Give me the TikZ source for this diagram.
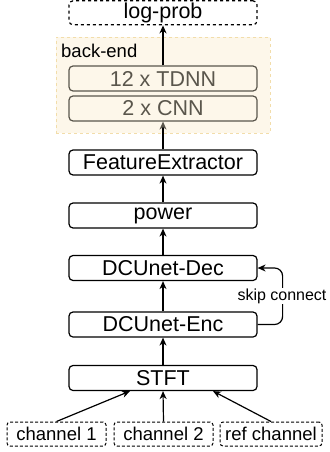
\documentclass[tikz,border=0pt]{standalone}
\usepackage{fontspec}
\setmainfont{Liberation Sans}
\usetikzlibrary{arrows.meta,calc}
\definecolor{becream}{HTML}{FDF7EA}
\definecolor{beborder}{HTML}{F2DDAA}
\definecolor{begrey}{HTML}{5A564C}
\begin{document}
\begin{tikzpicture}[x=1pt,y=-1pt,
  box/.style={draw, rounded corners=4pt, line width=1.2pt, minimum width=188pt, minimum height=25pt, inner sep=0pt, font=\fontsize{21.5}{22}\selectfont},
  bebox/.style={box, draw=begrey, text=begrey, fill=becream},
  inbox/.style={draw, dashed, dash pattern=on 3pt off 2pt, rounded corners=3pt, line width=1pt, minimum height=24pt, inner sep=0pt, font=\fontsize{18.5}{19}\selectfont},
  arr/.style={line width=1.2pt, -{Stealth[length=8pt,width=7pt,inset=2.5pt]}},
  lbl/.style={font=\fontsize{16}{16}\selectfont, fill=white, inner sep=1pt}]
\useasboundingbox (0,0) rectangle (329,452);
% back-end container
\node[draw=beborder, fill=becream, dashed, dash pattern=on 3pt off 3pt, line width=0.9pt, minimum width=214pt, minimum height=96pt, inner sep=0pt] (backend) at (163,85) {};
\node[anchor=base west, font=\fontsize{18.5}{19}\selectfont, inner sep=0pt] (belabel) at (61,57) {back-end};
% main boxes
\node[box, dashed, dash pattern=on 3pt off 3pt, minimum height=24pt] (logprob) at (163,12.8) {log-prob};
\node[bebox] (tdnn) at (163,78.5) {12 x TDNN};
\node[bebox] (cnn) at (163,108.5) {2 x CNN};
\node[box] (fe) at (163,162.5) {FeatureExtractor};
\node[box] (power) at (163,215.5) {power};
\node[box] (dec) at (163,268) {DCUnet-Dec};
\node[box] (enc) at (163,324.5) {DCUnet-Enc};
\node[box] (stft) at (163,378) {STFT};
% inputs
\node[inbox, minimum width=99pt] (ch1) at (56.5,434) {channel 1};
\node[inbox, minimum width=99pt] (ch2) at (163.5,434) {channel 2};
\node[inbox, minimum width=102pt] (ref) at (271,434) {ref channel};
% connectors
\draw[arr] (tdnn.north) -- (logprob.south);
\draw[line width=1.2pt, -{Stealth[length=8pt,width=7pt,inset=2.5pt,color=begrey]}] (fe.north) -- (cnn.south);
\draw[arr] (power.north) -- (fe.south);
\draw[arr] (dec.north) -- (power.south);
\draw[arr] (enc.north) -- (dec.south);
\draw[arr] (stft.north) -- (enc.south);
\draw[arr] (ch2.north) -- (stft.south);
\draw[arr] (ch1.north) -- ($(stft.south)+(-33,0)$);
\draw[arr] (ref.north) -- ($(stft.south)+(50,0)$);
\draw[arr, rounded corners=8pt] (enc.east) -- ++(25,0) -- ($(dec.east)+(25,0)$) -- (dec.east);
\node[lbl] (skip) at (282,296) {skip connect};
\end{tikzpicture}
\end{document}
